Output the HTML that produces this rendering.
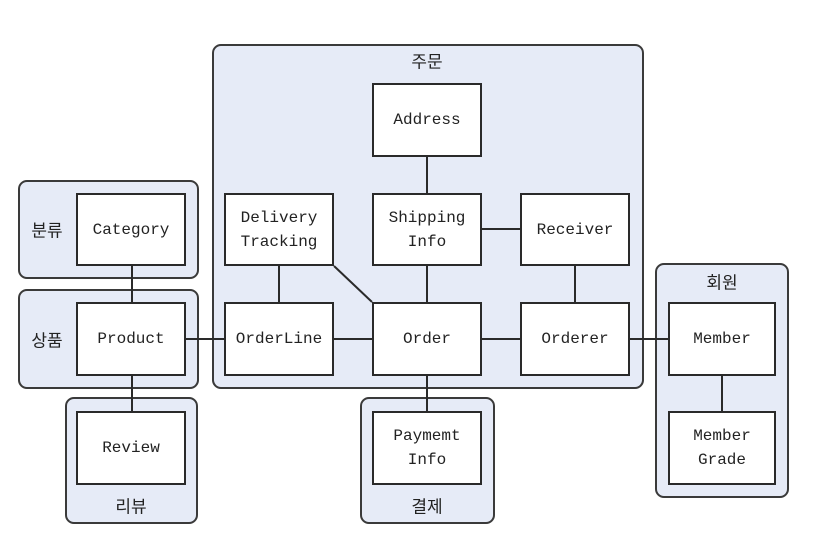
<!DOCTYPE html>
<html><head><meta charset="utf-8"><style>
body{margin:0;width:820px;height:535px;background:#fff;position:relative;overflow:hidden;font-family:"Liberation Mono","Noto Sans CJK KR",monospace;color:#222}
.g{position:absolute;background:#e6ebf7;border:2px solid #3a3a3a;border-radius:9px;box-sizing:border-box}
.b{position:absolute;background:#fff;border:2px solid #2a2a2a;box-sizing:border-box;display:flex;align-items:center;justify-content:center;text-align:center;font-size:16px;line-height:24px}
.l{position:absolute;font-family:"Noto Sans CJK KR",sans-serif;font-size:17px;transform:translate(-50%,-50%);white-space:nowrap}
svg{position:absolute;left:0;top:0}
</style></head><body>
<div class="g" style="left:212px;top:44px;width:432px;height:345px"></div>
<div class="g" style="left:18px;top:180px;width:181px;height:99px"></div>
<div class="g" style="left:18px;top:289px;width:181px;height:100px"></div>
<div class="g" style="left:65px;top:397px;width:133px;height:127px"></div>
<div class="g" style="left:360px;top:397px;width:135px;height:127px"></div>
<div class="g" style="left:655px;top:263px;width:134px;height:235px"></div>
<svg width="820" height="535"><g stroke="#2a2a2a" stroke-width="2">
<line x1="427" y1="157" x2="427" y2="193"/><line x1="482" y1="229" x2="520" y2="229"/>
<line x1="279" y1="266" x2="279" y2="302"/><line x1="334" y1="266" x2="372" y2="302"/>
<line x1="427" y1="266" x2="427" y2="302"/><line x1="575" y1="266" x2="575" y2="302"/>
<line x1="132" y1="266" x2="132" y2="302"/><line x1="186" y1="339" x2="224" y2="339"/>
<line x1="334" y1="339" x2="372" y2="339"/><line x1="482" y1="339" x2="520" y2="339"/>
<line x1="630" y1="339" x2="668" y2="339"/><line x1="132" y1="376" x2="132" y2="411"/>
<line x1="427" y1="376" x2="427" y2="411"/><line x1="722" y1="376" x2="722" y2="411"/>
</g></svg>
<div class="b" style="left:372px;top:83px;width:110px;height:74px">Address</div>
<div class="b" style="left:224px;top:193px;width:110px;height:73px">Delivery<br>Tracking</div>
<div class="b" style="left:372px;top:193px;width:110px;height:73px">Shipping<br>Info</div>
<div class="b" style="left:520px;top:193px;width:110px;height:73px">Receiver</div>
<div class="b" style="left:76px;top:193px;width:110px;height:73px">Category</div>
<div class="b" style="left:76px;top:302px;width:110px;height:74px">Product</div>
<div class="b" style="left:224px;top:302px;width:110px;height:74px">OrderLine</div>
<div class="b" style="left:372px;top:302px;width:110px;height:74px">Order</div>
<div class="b" style="left:520px;top:302px;width:110px;height:74px">Orderer</div>
<div class="b" style="left:668px;top:302px;width:108px;height:74px">Member</div>
<div class="b" style="left:76px;top:411px;width:110px;height:74px">Review</div>
<div class="b" style="left:372px;top:411px;width:110px;height:74px">Paymemt<br>Info</div>
<div class="b" style="left:668px;top:411px;width:108px;height:74px">Member<br>Grade</div>
<div class="l" style="left:427px;top:60px">주문</div>
<div class="l" style="left:47px;top:229px">분류</div>
<div class="l" style="left:47px;top:339px">상품</div>
<div class="l" style="left:131px;top:505px">리뷰</div>
<div class="l" style="left:427px;top:505px">결제</div>
<div class="l" style="left:722px;top:281px">회원</div>
</body></html>
